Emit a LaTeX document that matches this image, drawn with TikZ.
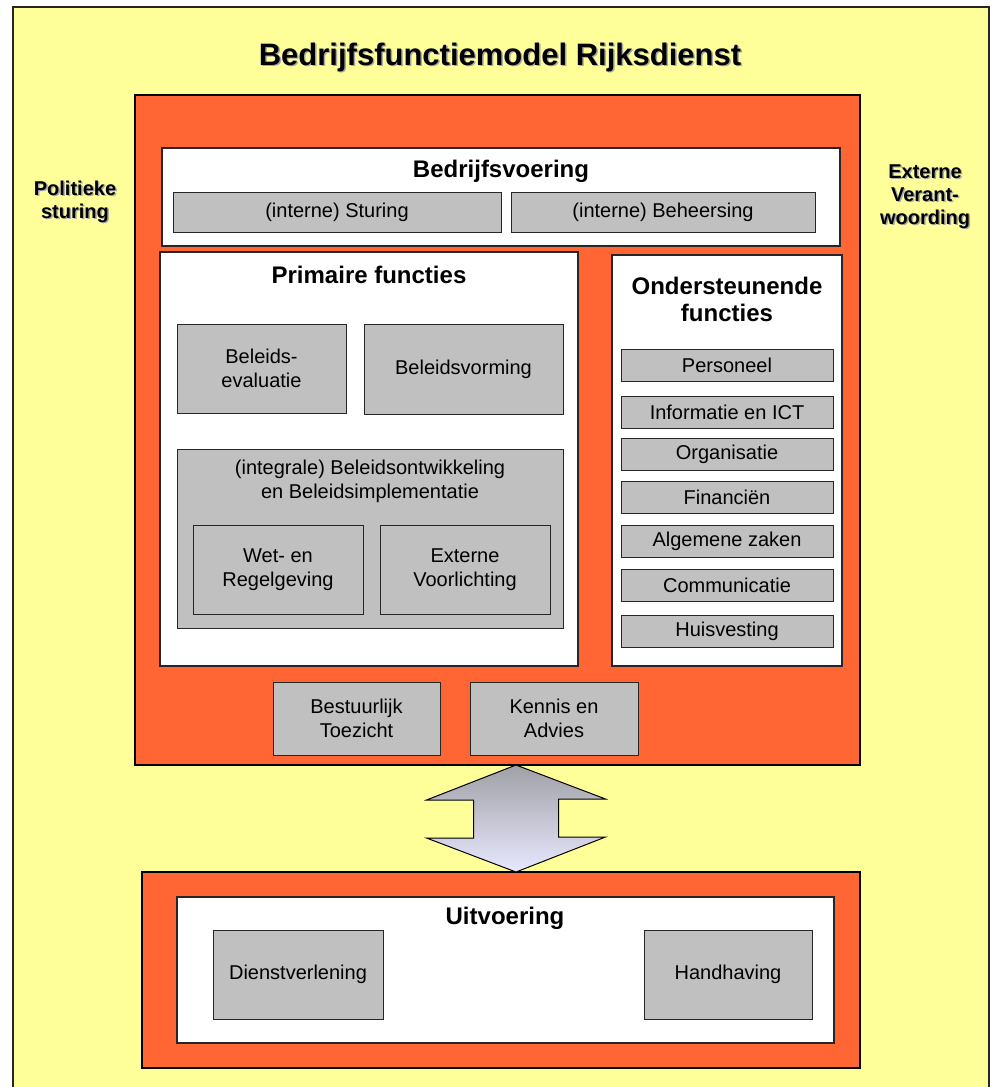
\documentclass[tikz,border=0pt]{standalone}
\usepackage{fontspec}
\setmainfont{Liberation Sans}
\usetikzlibrary{positioning}

\definecolor{yellowbg}{HTML}{FFFF99}
\definecolor{orangebg}{HTML}{FF6633}
\definecolor{graybg}{HTML}{C0C0C0}
\definecolor{lineclr}{HTML}{262626}
\definecolor{shadowclr}{HTML}{A8A8A8}
\definecolor{arrowtop}{HTML}{A0A0A6}
\definecolor{arrowbot}{HTML}{E8E8FF}

% text with a light grey shadow
\newcommand{\shtext}[1]{\makebox[0pt][l]{\hspace{1.5pt}\raisebox{-1.5pt}{\textcolor{shadowclr}{#1}}}#1}

\begin{document}
\begin{tikzpicture}[
    x=1pt, y=-1pt,
    every node/.style={rectangle, inner sep=0pt, outer sep=0pt, align=center},
    frame/.style={fill=yellowbg, draw=lineclr, line width=2.2pt},
    orangebox/.style={fill=orangebg, draw=black, line width=1.8pt},
    whitebox/.style={fill=white, draw=lineclr, line width=1.2pt},
    graybox/.style={fill=graybg, draw=lineclr, line width=1pt, font=\fontsize{20}{24}\selectfont},
    heading/.style={font=\bfseries\fontsize{24}{27}\selectfont},
    sidetext/.style={font=\bfseries\fontsize{20}{23}\selectfont}
]
    \clip (0,0) rectangle (991,1087);

    % Background frame and title
    \node[frame, anchor=north west, minimum width=976, minimum height=1100] (frame) at (13,7) {};
    \node[font=\bfseries\fontsize{31}{36}\selectfont] (title) at (500,58) {\shtext{Bedrijfsfunctiemodel Rijksdienst}};

    % Side labels
    \node[sidetext] (politiek) at (75,202.5) {\shtext{Politieke}\\\shtext{sturing}};
    \node[sidetext] (extern) at (925,197) {\shtext{Externe}\\\shtext{Verant-}\\\shtext{woording}};

    % Rijksdienst block
    \node[orangebox, minimum width=725, minimum height=670] (rijk) at (497.5,430) {};

    % Bedrijfsvoering
    \node[whitebox, minimum width=678, minimum height=98] (bv) at (501,197) {};
    \node[heading] (bvtitle) at (501,171) {Bedrijfsvoering};
    \node[graybox, minimum width=328, minimum height=40] (sturing) at (337,212) {(interne) Sturing};
    \node[graybox, minimum width=304, minimum height=40] (beheersing) at (663,212) {(interne) Beheersing};

    % Primaire functies
    \node[whitebox, minimum width=418, minimum height=414] (pf) at (369,459) {};
    \node[heading] (pftitle) at (369,275) {Primaire functies};
    \node[graybox, minimum width=169, minimum height=89] (evaluatie) at (261.5,368.5) {Beleids-\\evaluatie};
    \node[graybox, minimum width=199, minimum height=90] (vorming) at (463.5,369) {Beleidsvorming};
    \node[graybox, minimum width=386, minimum height=179] (integraal) at (370,538.5) {};
    \node[font=\fontsize{20}{24}\selectfont] (integraaltxt) at (370,481) {(integrale) Beleidsontwikkeling\\en Beleidsimplementatie};
    \node[graybox, minimum width=170, minimum height=89] (wet) at (278,569.5) {Wet- en\\Regelgeving};
    \node[graybox, minimum width=170, minimum height=89] (voorlichting) at (465,569.5) {Externe\\Voorlichting};

    % Ondersteunende functies
    \node[whitebox, minimum width=230, minimum height=411] (of) at (727,460.5) {};
    \node[heading] (oftitle) at (727,299.5) {Ondersteunende\\functies};
    \node[graybox, minimum width=212, minimum height=32] (personeel) at (727,365) {Personeel};
    \node[graybox, minimum width=212, minimum height=32] (ict) at (727,412) {Informatie en ICT};
    \node[graybox, minimum width=212, minimum height=32] (organisatie) at (727,454) {Organisatie};
    \node[graybox, minimum width=212, minimum height=32] (financien) at (727,497) {Financiën};
    \node[graybox, minimum width=212, minimum height=32] (algemeen) at (727,541) {Algemene zaken};
    \node[graybox, minimum width=212, minimum height=32] (communicatie) at (727,585) {Communicatie};
    \node[graybox, minimum width=212, minimum height=32] (huisvesting) at (727,631) {Huisvesting};

    % Toezicht en advies
    \node[graybox, minimum width=167, minimum height=73] (toezicht) at (356.5,718.5) {Bestuurlijk\\Toezicht};
    \node[graybox, minimum width=168, minimum height=73] (advies) at (554,718.5) {Kennis en\\Advies};

    % Uitvoering block
    \node[orangebox, minimum width=718, minimum height=196] (uitv) at (501,970) {};
    \node[whitebox, minimum width=657, minimum height=146] (uitvbox) at (505.5,970) {};
    \node[heading] (uitvtitle) at (505,918) {Uitvoering};
    \node[graybox, minimum width=170, minimum height=89] (dienst) at (298,974.5) {Dienstverlening};
    \node[graybox, minimum width=168, minimum height=89] (handhaving) at (728,974.5) {Handhaving};

    % Double arrow between the blocks
    \coordinate (arrtop) at (rijk.south -| 516,0);
    \coordinate (arrbot) at (uitv.north -| 516,0);
    \shade[top color=arrowtop, bottom color=arrowbot, draw=black, line width=1pt, line join=miter]
        (arrtop) -- ++(89.5,34) -- ++(-47,0) -- ++(0,38) -- ++(47,0)
        -- (arrbot) -- ++(-89.5,-34) -- ++(47,0) -- ++(0,-38) -- ++(-47,0) -- cycle;
\end{tikzpicture}
\end{document}
